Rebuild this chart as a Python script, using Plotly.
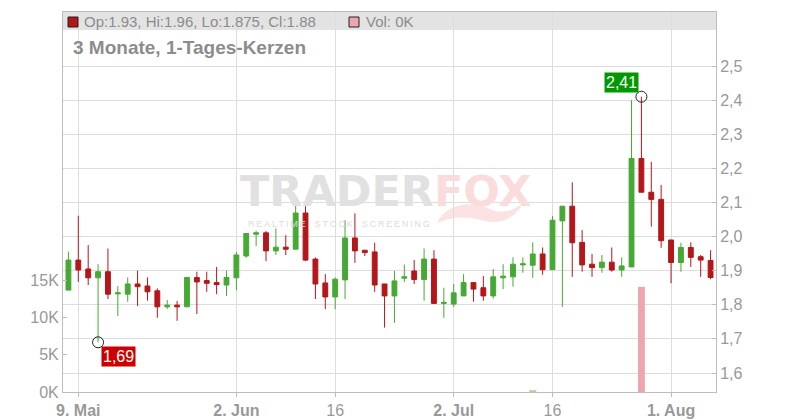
import plotly.graph_objects as go

dates = [
    "2025-05-08", "2025-05-09", "2025-05-12", "2025-05-13", "2025-05-14", "2025-05-15", "2025-05-16",
    "2025-05-19", "2025-05-20", "2025-05-21", "2025-05-22", "2025-05-23",
    "2025-05-26", "2025-05-27", "2025-05-28", "2025-05-29", "2025-05-30",
    "2025-06-02", "2025-06-03", "2025-06-04", "2025-06-05", "2025-06-06",
    "2025-06-09", "2025-06-10", "2025-06-11", "2025-06-12", "2025-06-13",
    "2025-06-16", "2025-06-17", "2025-06-18", "2025-06-19", "2025-06-20",
    "2025-06-23", "2025-06-24", "2025-06-25", "2025-06-26", "2025-06-27",
    "2025-06-30", "2025-07-01", "2025-07-02", "2025-07-03", "2025-07-04",
    "2025-07-07", "2025-07-08", "2025-07-09", "2025-07-10", "2025-07-11",
    "2025-07-14", "2025-07-15", "2025-07-16", "2025-07-17", "2025-07-18",
    "2025-07-21", "2025-07-22", "2025-07-23", "2025-07-24", "2025-07-25",
    "2025-07-28", "2025-07-29", "2025-07-30", "2025-07-31", "2025-08-01",
    "2025-08-04", "2025-08-05", "2025-08-06", "2025-08-07",
]

open_ = [1.843, 1.931, 1.905, 1.879, 1.897, 1.832, 1.831, 1.861, 1.855, 1.841,
         1.794, 1.799, 1.794, 1.880, 1.871, 1.865, 1.858, 1.879, 1.943, 2.007,
         2.011, 1.958, 1.969, 1.963, 2.069, 1.934, 1.864, 1.823, 1.873, 1.996,
         1.960, 1.955, 1.861, 1.826, 1.878, 1.899, 1.874, 1.934, 1.804, 1.802,
         1.826, 1.865, 1.850, 1.826, 1.879, 1.882, 1.917, 1.916, 1.949, 1.903,
         2.046, 2.089, 1.983, 1.919, 1.909, 1.925, 1.902, 1.911, 2.229, 2.130,
         2.109, 1.990, 1.924, 1.968, 1.941, 1.930]
high = [1.956, 2.061, 1.975, 1.919, 1.965, 1.855, 1.880, 1.900, 1.880, 1.848,
        1.814, 1.811, 1.880, 1.897, 1.897, 1.911, 1.900, 1.955, 2.009, 2.017,
        2.016, 2.024, 2.004, 2.101, 2.089, 1.939, 1.890, 1.880, 2.048, 2.068,
        1.960, 1.982, 1.861, 1.899, 1.918, 1.931, 1.965, 1.960, 1.850, 1.861,
        1.890, 1.865, 1.884, 1.905, 1.919, 1.939, 1.939, 1.983, 1.968, 2.060,
        2.089, 2.159, 2.019, 1.949, 1.946, 1.968, 1.939, 2.400, 2.410, 2.219,
        2.151, 1.990, 1.982, 1.983, 1.946, 1.960]
low = [1.843, 1.867, 1.858, 1.690, 1.817, 1.767, 1.809, 1.796, 1.812, 1.762,
       1.788, 1.753, 1.794, 1.773, 1.838, 1.831, 1.826, 1.843, 1.938, 1.972,
       1.928, 1.946, 1.946, 1.963, 1.928, 1.817, 1.787, 1.787, 1.817, 1.923,
       1.943, 1.838, 1.733, 1.747, 1.867, 1.861, 1.812, 1.804, 1.762, 1.794,
       1.826, 1.809, 1.812, 1.818, 1.846, 1.853, 1.894, 1.879, 1.888, 1.903,
       1.794, 1.882, 1.897, 1.882, 1.894, 1.897, 1.882, 1.911, 2.130, 2.029,
       1.967, 1.863, 1.897, 1.911, 1.882, 1.875]
close = [1.931, 1.902, 1.879, 1.897, 1.831, 1.835, 1.861, 1.853, 1.838, 1.794,
         1.799, 1.794, 1.880, 1.867, 1.863, 1.859, 1.880, 1.946, 2.009, 2.011,
         1.958, 1.969, 1.963, 2.069, 1.931, 1.861, 1.823, 1.875, 1.996, 1.958,
         1.953, 1.858, 1.826, 1.870, 1.882, 1.874, 1.934, 1.804, 1.807, 1.835,
         1.865, 1.846, 1.826, 1.882, 1.884, 1.919, 1.920, 1.949, 1.903, 2.048,
         2.089, 1.982, 1.917, 1.909, 1.925, 1.902, 1.914, 2.229, 2.130, 2.109,
         1.988, 1.924, 1.968, 1.939, 1.931, 1.880]
volume = [0] * 47 + [250] + [0] * 10 + [14100] + [0] * 7

x_tick_dates = ["2025-05-09", "2025-06-02", "2025-06-16", "2025-07-02", "2025-07-16", "2025-08-01"]
x_tick_text = ["<b>9. Mai</b>", "<b>2. Jun</b>", "16", "<b>2. Jul</b>", "16", "<b>1. Aug</b>"]
price_ticks = [1.6, 1.7, 1.8, 1.9, 2.0, 2.1, 2.2, 2.3, 2.4, 2.5]
price_tick_text = ["1,6", "1,7", "1,8", "1,9", "2,0", "2,1", "2,2", "2,3", "2,4", "2,5"]
vol_ticks = [0, 5000, 10000, 15000]
vol_tick_text = ["0K", "5K", "10K", "15K"]

low_mark = (dates[3], 1.69, "1,69")
high_mark = (dates[58], 2.41, "2,41")

GREEN = "#47a935"
RED = "#b3171a"
GRAY_TXT = "#999999"
GRID = "#dddddd"
AXIS = "#bdbdbd"
FONT = "Liberation Sans, Arial, sans-serif"

# plot-area geometry in pixels (for paper-anchored decorations)
PL, PR, PT, PB = 63, 716, 12, 392


def px(xp):
    return (xp - PL) / (PR - PL)


def py(yp):
    return (PB - yp) / (PB - PT)


vol_colors = ["#a6d99c" if c >= o else "#eea6ae" for o, c in zip(open_, close)]

fig = go.Figure()

fig.add_trace(go.Bar(
    x=dates, y=volume, marker=dict(color=vol_colors, line=dict(width=0)),
    yaxis="y", hoverinfo="skip", showlegend=False,
))

fig.add_trace(go.Candlestick(
    x=dates, open=open_, high=high, low=low, close=close,
    increasing=dict(line=dict(color=GREEN, width=1), fillcolor=GREEN),
    decreasing=dict(line=dict(color=RED, width=1), fillcolor=RED),
    whiskerwidth=0, yaxis="y2", showlegend=False, hoverinfo="skip",
))

fig.add_trace(go.Scatter(
    x=[low_mark[0], high_mark[0]], y=[low_mark[1], high_mark[1]],
    mode="markers", yaxis="y2",
    marker=dict(symbol="circle-open", size=11, color="#222222", line=dict(width=1)),
    showlegend=False, hoverinfo="skip",
))

annotations = [
    dict(x=low_mark[0], y=low_mark[1], xref="x", yref="y2", text=low_mark[2],
         showarrow=False, xanchor="center", yanchor="middle", xshift=20, yshift=-14,
         bgcolor="#cc0000", font=dict(color="white", size=16, family=FONT), borderpad=1),
    dict(x=high_mark[0], y=high_mark[1], xref="x", yref="y2", text=high_mark[2],
         showarrow=False, xanchor="center", yanchor="middle", xshift=-20, yshift=14,
         bgcolor="#009900", font=dict(color="white", size=16, family=FONT), borderpad=1),
    # header texts
    dict(x=0, y=1, xref="paper", yref="paper", xanchor="left", yanchor="middle",
         xshift=19, yshift=-9, showarrow=False,
         text="Op:1.93, Hi:1.96, Lo:1.875, Cl:1.88",
         font=dict(color="#8c8c8c", size=15, family=FONT)),
    dict(x=0, y=1, xref="paper", yref="paper", xanchor="left", yanchor="middle",
         xshift=301, yshift=-9, showarrow=False, text="Vol: 0K",
         font=dict(color="#8c8c8c", size=15, family=FONT)),
    dict(x=0, y=1, xref="paper", yref="paper", xanchor="left", yanchor="middle",
         xshift=8, yshift=-35, showarrow=False, text="<b>3 Monate, 1-Tages-Kerzen</b>",
         font=dict(color="#8c8c8c", size=19, family=FONT)),
    # watermark
    dict(x=px(385), y=py(191), xref="paper", yref="paper",
         xanchor="center", yanchor="middle", showarrow=False,
         text="<b><span style='color:#e1e1e1'>TRADER</span><span style='color:#fbdcdc'>FOX</span></b>",
         font=dict(size=43, family="DejaVu Sans")),
    dict(x=px(339), y=py(224), xref="paper", yref="paper",
         xanchor="center", yanchor="middle", showarrow=False,
         text="\u2009".join("REALTIME") + "\u2003" + "\u2009".join("STOCK") + "\u2003" + "\u2009".join("SCREENING"),
         font=dict(size=9, color="#dcdcdc", family=FONT)),
]

tail_pts = [(437, 223), (445, 205), (470, 199), (490, 209), (500, 214), (512, 212), (523, 203),
            (516, 218), (500, 225), (485, 221), (470, 217), (455, 215), (437, 223)]
tail_path = "M {:.4f},{:.4f} ".format(px(tail_pts[0][0]), py(tail_pts[0][1]))
for k in range(1, len(tail_pts) - 1, 3):
    seg = tail_pts[k:k + 3]
    tail_path += "C " + " ".join("{:.4f},{:.4f}".format(px(a), py(b)) for a, b in seg) + " "
tail_path += "Z"

shapes = [
    dict(type="rect", xref="paper", yref="paper", x0=0, x1=1, y0=py(30), y1=1,
         fillcolor="#e3e3e3", line=dict(width=0), layer="below"),
    dict(type="rect", xref="paper", yref="paper", xsizemode="pixel", ysizemode="pixel",
         xanchor=0, yanchor=1, x0=5, x1=15, y0=-5, y1=-15,
         fillcolor="#b0171a", line=dict(color="#222222", width=1)),
    dict(type="rect", xref="paper", yref="paper", xsizemode="pixel", ysizemode="pixel",
         xanchor=0, yanchor=1, x0=286, x1=296, y0=-5, y1=-15,
         fillcolor="#eea6ae", line=dict(color="#222222", width=1)),
    dict(type="path", xref="paper", yref="paper", path=tail_path,
         fillcolor="#fbe3e3", line=dict(width=0), layer="below"),
]

fig.update_layout(
    width=800, height=420,
    margin=dict(l=PL, r=800 - PR, t=PT, b=420 - PB, autoexpand=False),
    paper_bgcolor="white", plot_bgcolor="rgba(0,0,0,0)",
    boxgap=0.3, bargap=0.3,
    font=dict(family=FONT, color=GRAY_TXT, size=16),
    showlegend=False, hovermode=False,
    xaxis=dict(
        type="category", range=[-0.55, 65.55], automargin=False,
        tickmode="array", tickvals=x_tick_dates, ticktext=x_tick_text,
        showgrid=True, gridcolor=GRID, gridwidth=1,
        showline=True, linecolor=AXIS, linewidth=1, mirror=True,
        ticks="outside", ticklen=4, tickcolor=AXIS,
        tickfont=dict(size=16, color=GRAY_TXT),
        rangeslider=dict(visible=False), fixedrange=True,
    ),
    yaxis=dict(
        side="left", range=[0, 50940], automargin=False,
        tickmode="array", tickvals=vol_ticks, ticktext=vol_tick_text,
        showgrid=False, zeroline=False,
        showline=True, linecolor=AXIS, linewidth=1,
        ticks="inside", ticklen=4, tickcolor=AXIS,
        tickfont=dict(size=16, color=GRAY_TXT), fixedrange=True,
    ),
    yaxis2=dict(
        side="right", overlaying="y", range=[1.5443, 2.6584], automargin=False,
        tickmode="array", tickvals=price_ticks, ticktext=price_tick_text,
        showgrid=True, gridcolor=GRID, gridwidth=1, zeroline=False,
        showline=True, linecolor=AXIS, linewidth=1,
        ticks="inside", ticklen=4, tickcolor=AXIS,
        tickfont=dict(size=16, color=GRAY_TXT), fixedrange=True,
    ),
    annotations=annotations,
    shapes=shapes,
)

fig.write_html(
    "out.html",
    config={"displayModeBar": False, "staticPlot": True},
    post_script="document.body.style.margin='0';document.body.style.overflow='hidden';",
)
